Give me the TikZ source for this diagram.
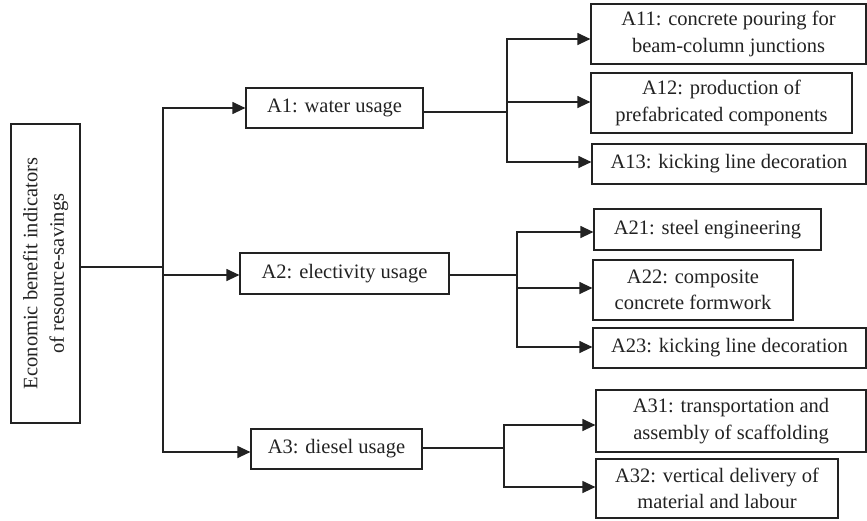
\documentclass[tikz,border=0pt]{standalone}
\usepackage{fontspec}
\setmainfont{Liberation Serif}
\usetikzlibrary{arrows.meta}
\definecolor{ink}{HTML}{222222}
\tikzset{
  box/.style={draw=ink, line width=1.2pt, inner sep=0pt, align=center, text=ink,
    font=\fontsize{20.5}{26.5}\selectfont},
  conn/.style={draw=ink, line width=1.2pt},
  thick conn/.style={draw=ink, line width=2pt},
  arr/.style={conn, -{Triangle[length=13pt,width=12pt]}}
}
\begin{document}
\begin{tikzpicture}[x=1pt,y=-1pt]
\useasboundingbox (0,0) rectangle (867,520);
% root
\node[box, rotate=90, minimum width=299pt, minimum height=69pt] (root) at (45.5,273.5)
  {Economic benefit indicators\\of resource-savings};
% level 1
\node[box, minimum width=177pt, minimum height=40pt] (A1) at (334.5,108) {A1: water usage};
\node[box, minimum width=209pt, minimum height=41pt] (A2) at (344.5,273.5) {A2: electivity usage};
\node[box, minimum width=171pt, minimum height=40pt] (A3) at (336.5,449) {A3: diesel usage};
% level 2
\node[box, minimum width=275pt, minimum height=60pt] (A11) at (728.5,34) {A11: concrete pouring for\\beam-column junctions};
\node[box, minimum width=261pt, minimum height=60pt] (A12) at (721.5,103) {A12: production of\\prefabricated components};
\node[box, minimum width=274pt, minimum height=40pt] (A13) at (729,164) {A13: kicking line decoration};
\node[box, minimum width=227pt, minimum height=41pt] (A21) at (707.5,229.5) {A21: steel engineering};
\node[box, minimum width=200pt, minimum height=60pt] (A22) at (693,290) {A22: composite\\concrete formwork};
\node[box, minimum width=273pt, minimum height=40pt] (A23) at (729.5,348) {A23: kicking line decoration};
\node[box, minimum width=270pt, minimum height=62pt] (A31) at (731,421) {A31: transportation and\\assembly of scaffolding};
\node[box, minimum width=242pt, minimum height=59pt] (A32) at (717,488.5) {A32: vertical delivery of\\material and labour};
% junctions
\coordinate (t) at (163,267);
\coordinate (b1) at (507,112);
\coordinate (b2) at (517,275);
\coordinate (b3) at (504,448);
% connectors
\draw[conn] ([yshift=6.5pt]root.south) -- (t);
\draw[arr] (t) |- (A1.west);
\draw[arr] (t) |- ([yshift=-1.5pt]A2.west);
\draw[arr] (t) |- ([yshift=-3pt]A3.west);
\draw[thick conn] ([yshift=-4pt]A1.east) -- (b1);
\draw[arr] (b1) |- ([yshift=-5pt]A11.west);
\draw[arr] (b1) |- ([yshift=1pt]A12.west);
\draw[arr] (b1) |- ([yshift=2pt]A13.west);
\draw[thick conn] ([yshift=-1.5pt]A2.east) -- (b2);
\draw[arr] (b2) |- ([yshift=-2.5pt]A21.west);
\draw[arr] (b2) |- ([yshift=2pt]A22.west);
\draw[arr] (b2) |- ([yshift=1pt]A23.west);
\draw[conn] ([yshift=1pt]A3.east) -- (b3);
\draw[arr] (b3) |- ([yshift=-4pt]A31.west);
\draw[arr] (b3) |- ([yshift=1.5pt]A32.west);
\end{tikzpicture}
\end{document}
